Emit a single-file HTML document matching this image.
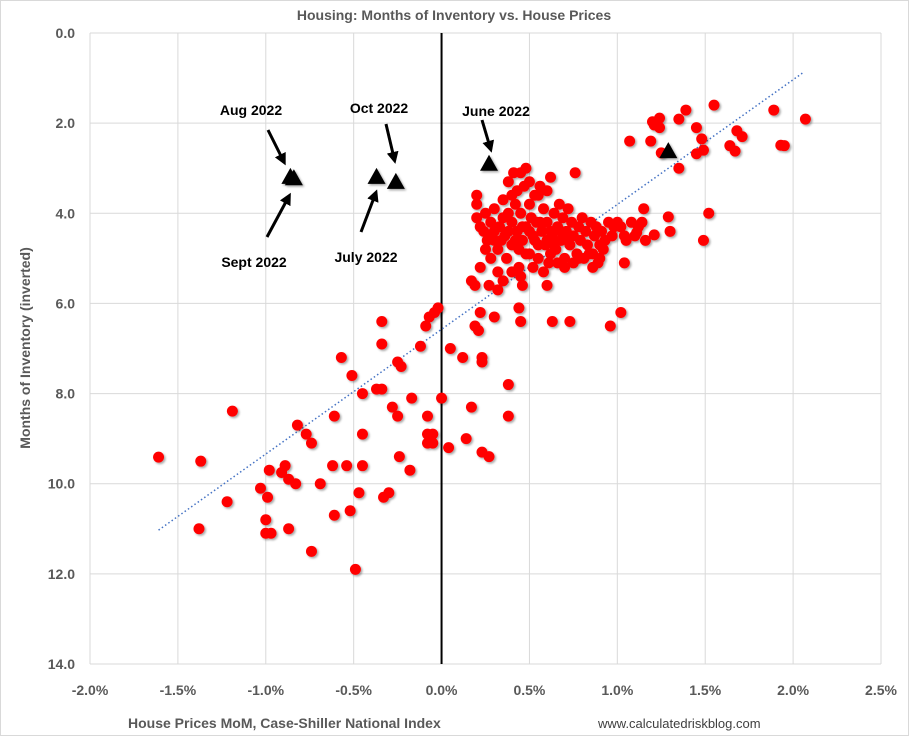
<!DOCTYPE html>
<html><head><meta charset="utf-8"><style>
body{margin:0;background:#fff;}
svg text{font-family:"Liberation Sans",Arial,sans-serif;}
</style></head><body>
<svg id="chart" width="909" height="736" viewBox="0 0 909 736" xmlns="http://www.w3.org/2000/svg">
<defs><filter id="sh" x="-50%" y="-50%" width="200%" height="200%"><feDropShadow dx="1.5" dy="1.5" stdDeviation="1" flood-color="#000" flood-opacity="0.35"/></filter>
<marker id="ah" markerWidth="4" markerHeight="4" refX="2" refY="2" orient="auto" markerUnits="strokeWidth"><path d="M0,0 L4,2 L0,4 Z" fill="#000"/></marker></defs>
<rect x="0.5" y="0.5" width="908" height="735" fill="#fff" stroke="#d9d9d9"/>
<text x="454" y="20" text-anchor="middle" font-size="14" font-weight="bold" fill="#595959">Housing: Months of Inventory vs. House Prices</text>
<g id="grid"></g>
<g id="axes"></g>
<g id="trend"></g>
<g id="pts" filter="url(#sh)"></g>
<g id="tris" filter="url(#sh)"></g>
<g id="ann"></g>
<text transform="translate(30,348) rotate(-90)" text-anchor="middle" font-size="14" font-weight="bold" fill="#595959">Months of Inventory (inverted)</text>
<text x="128" y="728" font-size="14" font-weight="bold" fill="#595959">House Prices MoM, Case-Shiller National Index</text>
<text x="598" y="728" font-size="13" fill="#404040">www.calculatedriskblog.com</text>
</svg>
<script>
const xTicks=[-2.0,-1.5,-1.0,-0.5,0.0,0.5,1.0,1.5,2.0,2.5];
const yTicks=[0,2,4,6,8,10,12,14];
const ptsX=[-1.61,-1.38,-1.37,-1.19,-1.22,-1.03,-0.99,-0.98,-1.0,-1.0,-0.97,-0.91,-0.89,-0.87,-0.83,-0.87,-0.82,-0.77,-0.74,-0.74,-0.69,-0.62,-0.61,-0.61,-0.57,-0.54,-0.51,-0.52,-0.47,-0.49,-0.45,-0.45,-0.45,-0.37,-0.34,-0.34,-0.34,-0.33,-0.30,-0.28,-0.25,-0.25,-0.23,-0.24,-0.18,-0.17,-0.09,-0.08,-0.08,-0.08,-0.05,-0.05,-0.07,-0.04,-0.02,-0.12,0.0,0.04,0.05,0.12,0.14,0.17,0.19,0.21,0.23,0.23,0.23,0.27,0.22,0.30,0.38,0.38,0.45,0.44,0.63,0.73,0.60,0.46,0.32,0.17,0.19,0.27,0.96,1.02,1.04,0.86,
1.07,1.19,1.20,1.24,1.24,1.21,1.25,1.35,1.39,1.45,1.48,1.49,1.45,1.55,1.64,1.67,1.68,1.71,1.89,1.93,1.95,2.07,1.35,1.29,1.30,1.52,1.49,1.15,1.14,1.11,1.21,1.04,
0.20,0.2,0.2,0.22,0.25,0.27,0.28,0.3,0.3,0.32,0.33,0.35,0.35,0.36,0.37,0.38,0.38,0.4,0.4,0.41,0.42,0.43,0.44,0.45,0.45,0.46,0.47,0.48,0.48,0.5,0.5,0.51,0.52,0.53,0.54,0.55,0.56,0.57,0.58,0.59,0.6,0.6,0.61,0.62,0.63,0.64,0.65,0.66,0.67,0.68,0.69,0.7,0.71,0.72,0.73,0.74,0.75,0.76,0.77,0.78,0.79,0.8,0.81,0.82,0.83,0.85,0.86,0.87,0.88,0.89,0.9,0.9,0.91,0.92,0.93,0.95,0.97,0.98,1.0,1.02,1.05,1.08,1.1,1.12,1.16,0.22,0.25,0.28,0.32,0.35,0.4,0.45,0.48,0.52,0.55,0.58,0.62,0.66,0.7,0.75,0.78,0.84,0.3,0.34,0.38,0.42,0.44,0.46,0.5,0.53,0.56,0.6,0.62,0.64,0.68,0.72,0.26,0.24,0.4,0.43,0.5,0.55];
const ptsY=[9.41,11.0,9.5,8.39,10.4,10.1,10.3,9.7,10.8,11.1,11.1,9.75,9.6,9.9,10.0,11.0,8.7,8.9,9.1,11.5,10.0,9.6,10.7,8.5,7.2,9.6,7.6,10.6,10.2,11.9,8.0,8.9,9.6,7.9,7.9,6.9,6.4,10.3,10.2,8.3,8.5,7.3,7.4,9.4,9.7,8.1,6.5,8.9,8.5,9.1,9.1,8.9,6.3,6.2,6.1,6.95,8.1,9.2,7.0,7.2,9.0,8.3,6.5,6.6,7.2,7.3,9.3,9.4,6.2,6.3,7.8,8.5,6.4,6.1,6.4,6.4,5.6,5.6,5.7,5.5,5.6,5.6,6.5,6.2,5.1,5.2,
2.4,2.4,1.97,1.89,2.1,2.04,2.66,1.91,1.71,2.1,2.35,2.6,2.68,1.6,2.5,2.62,2.17,2.3,1.71,2.49,2.5,1.91,3.0,4.08,4.4,4.0,4.6,3.9,4.2,4.43,4.48,4.5,
3.6,3.8,4.1,4.3,4.0,4.5,4.2,3.9,4.6,4.8,4.3,4.1,3.7,4.5,5.0,4.0,3.3,4.2,4.7,3.1,3.8,4.4,5.2,3.1,4.0,4.6,3.4,4.3,3.0,4.9,3.8,4.1,4.5,3.6,4.2,5.0,3.4,4.4,3.9,4.7,4.2,3.5,5.1,3.2,4.5,4.0,4.8,4.3,3.8,4.6,4.1,5.0,4.4,3.9,4.7,4.2,4.5,3.1,4.9,4.3,4.6,4.1,5.0,4.4,4.7,4.2,4.9,4.5,4.3,5.1,4.7,5.0,4.4,4.8,4.6,4.2,4.5,4.3,4.2,4.3,4.6,4.2,4.5,4.3,4.6,5.2,4.8,5.0,5.3,5.5,5.3,5.4,4.9,5.2,4.7,5.3,4.9,5.1,5.2,5.1,5.0,4.9,4.4,4.6,4.4,4.6,4.8,4.3,4.4,4.6,4.2,4.6,4.4,4.7,4.4,4.6,4.6,4.4,3.6,3.5,3.3,3.6];
const triX=[-0.86,-0.84,-0.37,-0.26,0.27,1.29];
const triY=[3.17,3.2,3.17,3.28,2.88,2.6];
const trendX=[-1.61,2.06];
const trendY=[11.03,0.87];
const annLabels=["Aug 2022","Sept 2022","Oct 2022","July 2022","June 2022"];

const X0=90,X1=881,Y0=33,Y1=664;
const sx=v=>X0+(v-(-2))/(4.5)*(X1-X0);
const sy=v=>Y0+v/14*(Y1-Y0);
const NS="http://www.w3.org/2000/svg";
function mk(tag,attrs,parent){const e=document.createElementNS(NS,tag);for(const k in attrs)e.setAttribute(k,attrs[k]);parent.appendChild(e);return e;}
const grid=document.getElementById('grid'),axes=document.getElementById('axes');
xTicks.forEach(t=>{
 const l=mk('line',{x1:sx(t),x2:sx(t),y1:Y0,y2:Y1,stroke:'#d9d9d9'},grid);
 
 
 const tx=mk('text',{x:sx(t),y:695,'text-anchor':'middle','font-size':14,'font-weight':'bold',fill:'#595959'},axes);
 tx.textContent=t.toFixed(1)+'%';
 
 
});
yTicks.forEach(t=>{
 const l=mk('line',{x1:X0,x2:X1,y1:sy(t),y2:sy(t),stroke:'#d9d9d9'},grid);
 
 
 const tx=mk('text',{x:75,y:sy(t)+5,'text-anchor':'end','font-size':14,'font-weight':'bold',fill:'#595959'},axes);
 tx.textContent=t.toFixed(1);
 
 
});
const za=mk('line',{x1:sx(0),x2:sx(0),y1:Y0,y2:Y1,stroke:'#000','stroke-width':2},axes);


const tl=mk('line',{x1:sx(trendX[0]),y1:sy(trendY[0]),x2:sx(trendX[1]),y2:sy(trendY[1]),stroke:'#4472c4','stroke-width':1.5,'stroke-dasharray':'1.5 2.5'},document.getElementById('trend'));


const pg=document.getElementById('pts');
ptsX.forEach((v,i)=>{
 const c=mk('circle',{cx:sx(v),cy:sy(ptsY[i]),r:5.5,fill:'#ff0000'},pg);
 
 
});
const tg=document.getElementById('tris');
triX.forEach((v,i)=>{
 const x=sx(v),y=sy(triY[i]);
 const p=mk('polygon',{points:`${x},${y-8} ${x-9},${y+8} ${x+9},${y+8}`,fill:'#000'},tg);
 
 
});
const ag=document.getElementById('ann');
const annPos=[[251,115,268,130,283,160],[254,267,267,237,288,198],[379,113,386,124,394,158],[366,262,361,232,375,195],[496,116,482,120,490,147]];
annLabels.forEach((s,i)=>{
 const a=annPos[i];
 const t=mk('text',{x:a[0],y:a[1],'text-anchor':'middle','font-size':14,'font-weight':'bold',fill:'#000'},ag);
 t.textContent=s;
 
 
 const l=mk('line',{x1:a[2],y1:a[3],x2:a[4],y2:a[5],stroke:'#000','stroke-width':3,'marker-end':'url(#ah)'},ag);
 
 
});
</script>
</body></html>
